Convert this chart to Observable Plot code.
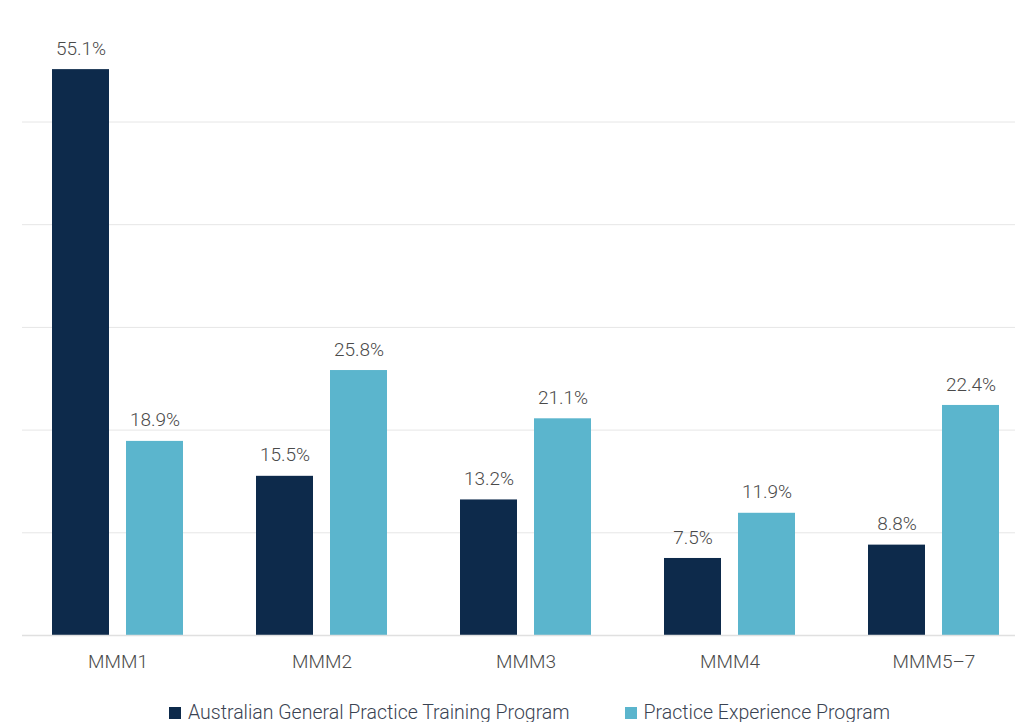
<!DOCTYPE html>
<html>
<head>
<meta charset="utf-8">
<script src="https://cdn.jsdelivr.net/npm/d3@7"></script>
<script src="https://cdn.jsdelivr.net/npm/@observablehq/plot@0.6"></script>
<style>
  html, body { margin: 0; padding: 0; background: #fff; }
  body { font-family: Roboto, "Noto Sans", sans-serif; width: 1015px; height: 722px; overflow: hidden; }
  #legend { display: flex; gap: 0; margin-left: 169px; margin-top: 11px; font-size: 19.5px; color: #3a4352; font-weight: 300; line-height: 24px; }
  .item { display: flex; align-items: center; margin-right: 55px; }
  .sw { width: 12px; height: 12px; margin-right: 7px; }
</style>
</head>
<body>
<div id="chart"></div>
<div id="legend"></div>
<script>
const categories = ["MMM1", "MMM2", "MMM3", "MMM4", "MMM5–7"];
const series = ["Australian General Practice Training Program", "Practice Experience Program"];
const agptValues = [55.1, 15.5, 13.2, 7.5, 8.8];
const pepValues = [18.9, 25.8, 21.1, 11.9, 22.4];
const gridTicks = [0, 10, 20, 30, 40, 50];
const colors = ["#0d2a4b", "#5bb5cd"];

const agpt = categories.map((c, i) => ({category: c, series: series[0], value: agptValues[i]}));
const pep = categories.map((c, i) => ({category: c, series: series[1], value: pepValues[i]}));

const textStyle = {fontSize: 19, fill: "#4a4a4a", fontWeight: 300, fontFamily: "Roboto"};

const chart = Plot.plot({
  width: 1015,
  height: 690,
  marginLeft: 22,
  marginRight: 0,
  marginTop: 0,
  marginBottom: 55,
  style: {fontFamily: "Roboto", background: "#fff"},
  x: {domain: categories, range: [52, 999], paddingInner: 0.358, paddingOuter: 0, axis: null},
  y: {domain: [0, 50], range: [635, 121.5], axis: null},
  color: {domain: series, range: colors},
  marks: [
    Plot.ruleY(gridTicks.slice(1), {stroke: "#e6e6e6", strokeWidth: 1}),
    Plot.barY(agpt, {x: "category", y: "value", fill: "series", insetRight: 74}),
    Plot.barY(pep, {x: "category", y: "value", fill: "series", insetLeft: 74}),
    Plot.ruleY([0], {stroke: "#e0e0e0", strokeWidth: 1.5}),
    Plot.text(agpt, {x: "category", y: "value", text: d => d.value.toFixed(1) + "%", dx: -37, dy: -21, lineAnchor: "middle", ...textStyle}),
    Plot.text(pep, {x: "category", y: "value", text: d => d.value.toFixed(1) + "%", dx: 37, dy: -21, lineAnchor: "middle", ...textStyle}),
    Plot.text(categories, {x: d => d, frameAnchor: "bottom", dy: 26, lineAnchor: "middle", text: d => d, ...textStyle})
  ]
});
document.getElementById("chart").appendChild(chart);

const legend = document.getElementById("legend");
series.forEach((s, i) => {
  const item = document.createElement("div");
  item.className = "item";
  const sw = document.createElement("span");
  sw.className = "sw";
  sw.style.background = colors[i];
  const label = document.createElement("span");
  label.textContent = s;
  item.appendChild(sw);
  item.appendChild(label);
  legend.appendChild(item);
});
</script>
</body>
</html>
